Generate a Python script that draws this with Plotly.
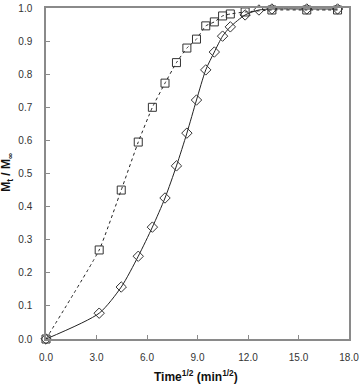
import plotly.graph_objects as go

time_sq = [0, 3.16, 4.47, 5.48, 6.32, 7.07, 7.75, 8.37, 8.94, 9.49, 10.0, 10.49, 10.95, 11.83, 13.42, 15.49, 17.32]
frac_sq = [0.0, 0.269, 0.45, 0.595, 0.70, 0.773, 0.835, 0.879, 0.906, 0.946, 0.958, 0.976, 0.982, 0.988, 0.994, 0.994, 0.994]

time_di = [0, 3.16, 4.47, 5.48, 6.32, 7.07, 7.75, 8.37, 8.94, 9.49, 10.0, 10.49, 10.95, 11.83, 12.65, 13.42, 15.49, 17.32]
frac_di = [0.0, 0.078, 0.157, 0.25, 0.338, 0.426, 0.523, 0.622, 0.722, 0.813, 0.867, 0.915, 0.943, 0.979, 0.994, 0.997, 0.997, 0.997]

x_ticks = [0, 3, 6, 9, 12, 15, 18]
x_labels = ["0.0", "3.0", "6.0", "9.0", "12.0", "15.0", "18.0"]
y_ticks = [round(0.1 * i, 1) for i in range(11)]
y_labels = [f"{v:.1f}" for v in y_ticks]

fig = go.Figure()
fig.add_trace(go.Scatter(
    x=time_sq, y=frac_sq, mode="lines+markers",
    line=dict(color="#222", width=1, dash="dot", shape="spline", smoothing=0.4),
    marker=dict(symbol="square-open", size=8, color="#333", line=dict(width=1)),
    showlegend=False, cliponaxis=False))
fig.add_trace(go.Scatter(
    x=time_di, y=frac_di, mode="lines+markers",
    line=dict(color="#222", width=1, shape="spline", smoothing=0.7),
    marker=dict(symbol="diamond-open", size=8, color="#333", line=dict(width=1)),
    showlegend=False, cliponaxis=False))

axis_common = dict(showgrid=False, zeroline=False, showline=True, linecolor="#8a8a8a",
                   linewidth=1.5, mirror=True, ticks="inside", ticklen=4, tickcolor="#8a8a8a",
                   ticklabeloverflow="allow", automargin=False,
                   tickfont=dict(family="Liberation Sans, Arial", size=10, color="#333"))
fig.update_xaxes(range=[0, 18], tickvals=x_ticks, ticktext=x_labels, ticklabelstandoff=8,
                 **axis_common)
fig.update_yaxes(range=[0, 1.0], tickvals=y_ticks, ticktext=y_labels, ticklabelstandoff=10,
                 **axis_common)
title_font = dict(family="Liberation Sans, Arial", size=12, color="#111")
fig.add_annotation(text="<b>Time<sup>1/2</sup> (min<sup>1/2</sup>)</b>", xref="paper", yref="paper",
                   x=0.495, y=-0.112, showarrow=False, font=title_font,
                   xanchor="center", yanchor="middle")
fig.add_annotation(text="<b>M<sub>t</sub> / M<sub>∞</sub></b>", xref="paper", yref="paper",
                   x=-0.129, y=0.505, showarrow=False, font=title_font, textangle=-90,
                   xanchor="center", yanchor="middle")
fig.update_layout(width=359, height=386, margin=dict(l=46, r=10, t=8, b=47),
                  plot_bgcolor="white", paper_bgcolor="white")
fig.write_html("out.html")
